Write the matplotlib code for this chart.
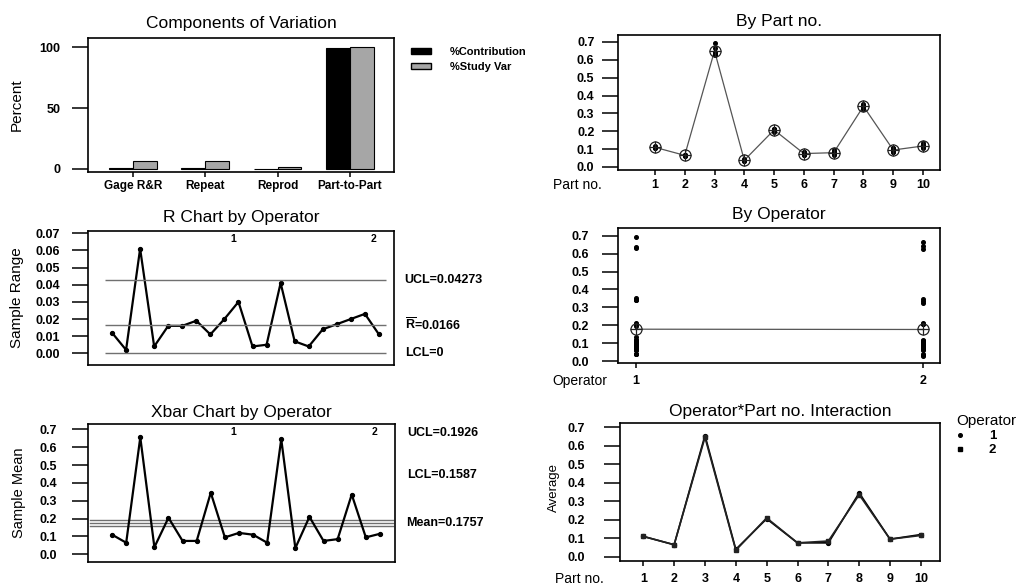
import numpy as np
import matplotlib.pyplot as plt
from matplotlib.patches import Patch
from matplotlib.lines import Line2D

plt.rcParams['font.family'] = ['Liberation Sans', 'DejaVu Sans']
plt.rcParams['mathtext.fontset'] = 'custom'
plt.rcParams['mathtext.rm'] = 'Liberation Sans'
plt.rcParams['mathtext.bf'] = 'Liberation Sans:bold'
plt.rcParams['axes.linewidth'] = 1.2

# ---- data -------------------------------------------------------------
components = ['Gage R&R', 'Repeat', 'Reprod', 'Part-to-Part']
pct_contribution = [0.42, 0.40, 0.02, 99.58]
pct_study_var = [6.5, 6.3, 1.2, 99.79]

parts = [1, 2, 3, 4, 5, 6, 7, 8, 9, 10]
operators = [1, 2]

# three trials per part for each operator
op1_trials = [
    [0.104, 0.110, 0.116],
    [0.064, 0.065, 0.066],
    [0.634, 0.637, 0.695],
    [0.038, 0.040, 0.042],
    [0.197, 0.205, 0.213],
    [0.067, 0.075, 0.083],
    [0.066, 0.074, 0.085],
    [0.340, 0.344, 0.351],
    [0.085, 0.095, 0.105],
    [0.105, 0.120, 0.135],
]
op2_trials = [
    [0.108, 0.110, 0.112],
    [0.062, 0.066, 0.067],
    [0.625, 0.644, 0.666],
    [0.031, 0.036, 0.038],
    [0.208, 0.210, 0.212],
    [0.068, 0.075, 0.082],
    [0.076, 0.086, 0.093],
    [0.325, 0.335, 0.345],
    [0.083, 0.096, 0.106],
    [0.110, 0.114, 0.121],
]

r_ucl, r_bar, r_lcl = 0.04273, 0.0166, 0.0
x_ucl, x_mean, x_lcl = 0.1926, 0.1757, 0.1587

# ---- derived statistics -------------------------------------------------
t1 = np.array(op1_trials)
t2 = np.array(op2_trials)
subgroups = np.vstack([t1, t2])              # 20 subgroups (operator, part)
sub_mean = subgroups.mean(axis=1)
sub_range = np.ptp(subgroups, axis=1)
sub_idx = np.arange(1, len(subgroups) + 1)
part_mean = np.hstack([t1, t2]).mean(axis=1)
op_mean = [t1.mean(), t2.mean()]

W, H = 1018, 584
fig = plt.figure(figsize=(W / 100, H / 100), dpi=100)


def add_axes(x0, y0, x1, y1):
    return fig.add_axes([x0 / W, 1 - y1 / H, (x1 - x0) / W, (y1 - y0) / H])


def style(ax, yticks, ylabels, ypad):
    ax.set_yticks(yticks, labels=ylabels, fontweight='bold', fontsize=9)
    ax.tick_params(axis='y', direction='out', length=11.5, width=1.1, pad=ypad)
    ax.tick_params(axis='x', direction='out', length=3.5, width=1.1)
    ax.tick_params(top=False, right=False)


def ftext(x, y, s, **kw):
    fig.text(x / W, 1 - y / H, s, **kw)


# ---- Components of Variation -----------------------------------------
ax = add_axes(88, 38, 394, 172)
xc = np.arange(len(components))
bw = 0.33
ax.bar(xc - bw / 2, pct_contribution, bw, color='black', edgecolor='black', lw=0.8)
ax.bar(xc + bw / 2, pct_study_var, bw, color='#a6a6a6', edgecolor='black', lw=0.8)
ax.set_xlim(-0.62, 3.61)
ax.set_ylim(-2.5, 107.5)
style(ax, [0, 50, 100], ['0', '50', '100'], 8.5)
ax.set_xticks(xc, labels=components, fontweight='bold', fontsize=8.5)
ax.tick_params(axis='x', pad=2.5)
ax.set_title('Components of Variation', fontsize=12.5, pad=7)
ftext(17, 105, 'Percent', rotation=90, ha='center', va='center', fontsize=11)
ax.legend([Patch(facecolor='black', edgecolor='black'),
           Patch(facecolor='#a6a6a6', edgecolor='black')],
          ['%Contribution', '%Study Var'],
          loc='upper left', bbox_to_anchor=(411 / W, 1 - 47 / H),
          bbox_transform=fig.transFigure, frameon=False,
          prop={'weight': 'bold', 'size': 8}, handlelength=1.8, handleheight=0.55,
          handletextpad=1.7, labelspacing=0.45, borderpad=0, borderaxespad=0)

# ---- By Part no. -------------------------------------------------------
ax = add_axes(618, 35, 940, 170)
for p, a, b in zip(parts, t1, t2):
    vals = np.concatenate([a, b])
    ax.plot([p] * len(vals), vals, 'o', color='black', ms=2.6, zorder=3)
ax.plot(parts, part_mean, '-', color='#555555', lw=0.9, zorder=2)
ax.plot(parts, part_mean, 'o', mfc='none', mec='#222222', ms=8, mew=0.9, zorder=4)
ax.plot(parts, part_mean, '+', color='#222222', ms=8, mew=0.9, zorder=4)
ax.set_xlim(-0.24, 10.57)
ax.set_ylim(-0.017, 0.739)
yt = [0.0, 0.1, 0.2, 0.3, 0.4, 0.5, 0.6, 0.7]
style(ax, yt, [f'{v:.1f}' for v in yt], 5.5)
ax.set_xticks(parts, labels=[str(p) for p in parts], fontweight='bold', fontsize=9)
ax.tick_params(axis='x', pad=3)
ax.set_title('By Part no.', fontsize=12.5, pad=6.5)
ftext(553, 185, 'Part no.', ha='left', va='center', fontsize=10)

# ---- R Chart by Operator --------------------------------------------
ax = add_axes(88, 231, 394, 365)
ax.plot(sub_idx, sub_range, '-o', color='black', lw=1.6, ms=2.8)
for v in (r_ucl, r_bar, r_lcl):
    ax.hlines(v, 0.5, 20.5, color='#707070', lw=1.0)
ax.set_xlim(-0.71, 21.07)
ax.set_ylim(-0.0068, 0.0713)
yt = [0.0, 0.01, 0.02, 0.03, 0.04, 0.05, 0.06, 0.07]
style(ax, yt, [f'{v:.2f}' for v in yt], 8.4)
ax.set_xticks([])
ax.set_title('R Chart by Operator', fontsize=12.5, pad=6.5)
tr = ax.get_yaxis_transform()
lab = dict(transform=tr, ha='left', va='center', fontsize=9, fontweight='bold')
ax.text(1.035, r_ucl, f'UCL={r_ucl:.5f}', **lab)
ax.text(1.035, r_bar, r'$\mathbf{\overline{R}}$' + f'={r_bar:.4f}', **lab)
ax.text(1.035, r_lcl, f'LCL={r_lcl:g}', **lab)
xt = ax.get_xaxis_transform()
for pos, op in zip([9.6, 19.6], operators):
    ax.text(pos, 0.975, str(op), transform=xt, ha='center', va='top',
            fontsize=7.5, fontweight='bold')
ftext(17, 298, 'Sample Range', rotation=90, ha='center', va='center', fontsize=11)

# ---- By Operator -----------------------------------------------------
ax = add_axes(618, 228, 940, 363)
for op, tr_ in zip(operators, (t1, t2)):
    vals = tr_.ravel()
    ax.plot([op] * len(vals), vals, 'o', color='black', ms=2.6, zorder=3)
ax.plot(operators, op_mean, '-', color='#555555', lw=0.9, zorder=2)
ax.plot(operators, op_mean, 'o', mfc='none', mec='#222222', ms=8, mew=0.9, zorder=4)
ax.plot(operators, op_mean, '+', color='#222222', ms=8, mew=0.9, zorder=4)
ax.set_xlim(0.938, 2.058)
ax.set_ylim(-0.01, 0.743)
yt = [0.0, 0.1, 0.2, 0.3, 0.4, 0.5, 0.6, 0.7]
style(ax, yt, [f'{v:.1f}' for v in yt], 9.4)
ax.set_xticks(operators, labels=[str(o) for o in operators], fontweight='bold', fontsize=9)
ax.tick_params(axis='x', pad=5.5)
ax.set_title('By Operator', fontsize=12.5, pad=6.5)
ftext(552, 381, 'Operator', ha='left', va='center', fontsize=10)

# ---- Xbar Chart by Operator ------------------------------------------
ax = add_axes(88, 424, 395, 562)
ax.plot(sub_idx, sub_mean, '-o', color='black', lw=1.6, ms=2.8, zorder=3)
for v in (x_ucl, x_mean, x_lcl):
    ax.axhline(v, xmin=0.005, xmax=0.995, color='#707070', lw=1.0, zorder=2)
ax.set_xlim(-0.71, 21.07)
ax.set_ylim(-0.043, 0.73)
yt = [0.0, 0.1, 0.2, 0.3, 0.4, 0.5, 0.6, 0.7]
style(ax, yt, [f'{v:.1f}' for v in yt], 10.8)
ax.set_xticks([])
ax.set_title('Xbar Chart by Operator', fontsize=12.5, pad=5)
tr = ax.get_yaxis_transform()
lab = dict(transform=tr, ha='left', va='center', fontsize=9, fontweight='bold')
ax.text(1.04, 0.679, f'UCL={x_ucl:.4f}', **lab)
ax.text(1.04, 0.444, f'LCL={x_lcl:.4f}', **lab)
ax.text(1.035, x_mean, f'Mean={x_mean:.4f}', **lab)
xt = ax.get_xaxis_transform()
for pos, op in zip([9.6, 19.6], operators):
    ax.text(pos, 0.975, str(op), transform=xt, ha='center', va='top',
            fontsize=7.5, fontweight='bold')
ftext(19, 493, 'Sample Mean', rotation=90, ha='center', va='center', fontsize=10.5)

# ---- Operator*Part no. Interaction -----------------------------------
ax = add_axes(620, 423, 940, 561)
ax.plot(parts, t1.mean(axis=1), '-o', color='black', lw=1.2, ms=2.8)
ax.plot(parts, t2.mean(axis=1), '-s', color='#222222', lw=1.2, ms=2.6)
ax.set_xlim(0.245, 10.62)
ax.set_ylim(-0.023, 0.723)
yt = [0.0, 0.1, 0.2, 0.3, 0.4, 0.5, 0.6, 0.7]
style(ax, yt, [f'{v:.1f}' for v in yt], 13.7)
ax.set_xticks(parts, labels=[str(p) for p in parts], fontweight='bold', fontsize=9)
ax.tick_params(axis='x', pad=5)
ax.set_title('Operator*Part no. Interaction', fontsize=12.5, pad=5)
ftext(554, 487, 'Average', rotation=90, ha='center', va='center', fontsize=9.5)
ftext(555, 579, 'Part no.', ha='left', va='center', fontsize=10)
leg = ax.legend([Line2D([], [], marker='o', ls='none', color='black', ms=2.6),
                 Line2D([], [], marker='s', ls='none', color='black', ms=2.4)],
                [str(o) for o in operators], title='Operator',
                loc='upper left', bbox_to_anchor=(956 / W, 1 - 414 / H),
                bbox_transform=fig.transFigure, frameon=False,
                prop={'weight': 'bold', 'size': 9.5}, title_fontsize=11,
                handlelength=0.6, handletextpad=1.9, labelspacing=0.15,
                borderpad=0, borderaxespad=0, alignment='left')

fig.savefig('out.png', dpi=100, facecolor='white')
